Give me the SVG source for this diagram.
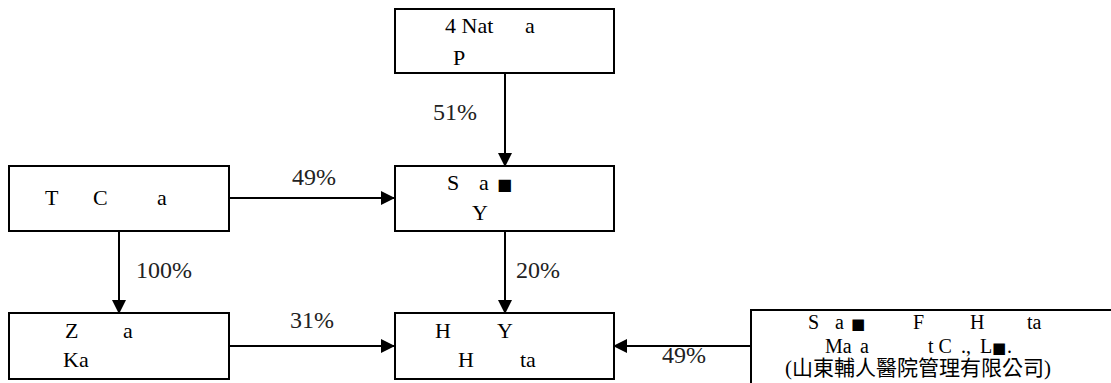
<svg xmlns="http://www.w3.org/2000/svg" width="1111" height="383" viewBox="0 0 1111 383">
<style>
.box{fill:#fff;stroke:#000;stroke-width:2}
.t{font-family:"Liberation Serif","Times New Roman","DejaVu Serif",serif;font-size:22px;fill:#000}
.s{font-family:"Liberation Serif","Times New Roman","DejaVu Serif",serif;font-size:20px;fill:#000}
.cjk{font-family:"Liberation Serif","Noto Sans CJK TC",serif;font-size:21px;fill:#000}
.g{font-family:"DejaVu Sans",sans-serif}
.p{font-family:"Liberation Serif","Times New Roman","DejaVu Serif",serif;font-size:24px;fill:#222}
.ln{stroke:#000;stroke-width:2;fill:none}
</style>
<defs>
<marker id="ah" markerWidth="14" markerHeight="14" refX="13" refY="7" orient="auto" markerUnits="userSpaceOnUse">
<path d="M0,0 L14,7 L0,14 Z" fill="#000"/>
</marker>
</defs>
<g id="connectors">
<line class="ln" x1="505" y1="73" x2="505" y2="166" marker-end="url(#ah)"/>
<line class="ln" x1="229" y1="198" x2="394" y2="198" marker-end="url(#ah)"/>
<line class="ln" x1="505" y1="231" x2="505" y2="313" marker-end="url(#ah)"/>
<line class="ln" x1="119" y1="231" x2="119" y2="313" marker-end="url(#ah)"/>
<line class="ln" x1="229" y1="346" x2="394" y2="346" marker-end="url(#ah)"/>
<line class="ln" x1="751" y1="346" x2="614" y2="346" marker-end="url(#ah)"/>
<text class="p" x="433" y="120">51%</text>
<text class="p" x="292" y="185">49%</text>
<text class="p" x="516" y="278">20%</text>
<text class="p" x="136" y="278">100%</text>
<text class="p" x="290" y="328">31%</text>
<text class="p" x="662" y="363">49%</text>
</g>
<g id="node-top">
<rect class="box" x="395" y="9" width="219" height="64"/>
<text class="t" y="33"><tspan x="445">4 Nat</tspan><tspan x="525">a</tspan></text>
<text class="t" x="453" y="65">P</text>
</g>
<g id="node-mid">
<rect class="box" x="395" y="166" width="219" height="65"/>
<text class="t" y="190"><tspan x="447">S</tspan><tspan x="479">a</tspan><tspan x="497" class="g" font-size="16">■</tspan></text>
<text class="t" x="472" y="220">Y</text>
</g>
<g id="node-left">
<rect class="box" x="9" y="166" width="220" height="65"/>
<text class="t" y="205"><tspan x="45">T</tspan><tspan x="93">C</tspan><tspan x="157">a</tspan></text>
</g>
<g id="node-botleft">
<rect class="box" x="9" y="313" width="220" height="66"/>
<text class="t" y="338"><tspan x="65">Z</tspan><tspan x="123">a</tspan></text>
<text class="t" x="63" y="367">Ka</text>
</g>
<g id="node-botmid">
<rect class="box" x="395" y="313" width="219" height="66"/>
<text class="t" y="338"><tspan x="435">H</tspan><tspan x="497">Y</tspan></text>
<text class="t" y="367"><tspan x="458">H</tspan><tspan x="520">ta</tspan></text>
</g>
<g id="node-botright">
<rect class="box" x="751" y="310" width="370" height="80"/>
<text class="s" y="329"><tspan x="808">S</tspan><tspan x="835">a</tspan><tspan x="851" class="g" font-size="15">■</tspan><tspan x="913">F</tspan><tspan x="970">H</tspan><tspan x="1027">ta</tspan></text>
<text class="s" y="353"><tspan x="825">Ma</tspan><tspan x="860">a</tspan><tspan x="928">t C</tspan><tspan x="961">.,</tspan><tspan x="980">L</tspan><tspan x="992" class="g" font-size="15">■</tspan><tspan x="1007">.</tspan></text>
<text class="cjk" x="785" y="375">(山東輔人醫院管理有限公司)</text>
</g>
</svg>
